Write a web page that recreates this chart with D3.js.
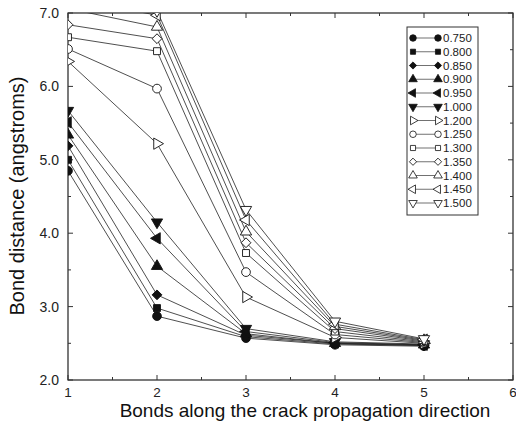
<!DOCTYPE html>
<html>
<head>
<meta charset="utf-8">
<script src="https://cdn.jsdelivr.net/npm/d3@7"></script>
<style>
  body { margin: 0; background: #fff; }
  svg { font-family: "Liberation Sans", Arial, sans-serif; }
</style>
</head>
<body>
<div id="chart"></div>
<script>
const bonds = [1, 2, 3, 4, 5];
const seriesLabels = ["0.750", "0.800", "0.850", "0.900", "0.950", "1.000",
  "1.200", "1.250", "1.300", "1.350", "1.400", "1.450", "1.500"];

const s0750 = [4.85, 2.87, 2.57, 2.48, 2.46];
const s0800 = [5.00, 2.98, 2.59, 2.49, 2.47];
const s0850 = [5.19, 3.16, 2.61, 2.50, 2.47];
const s0900 = [5.34, 3.55, 2.63, 2.50, 2.48];
const s0950 = [5.51, 3.93, 2.66, 2.51, 2.48];
const s1000 = [5.67, 4.15, 2.70, 2.52, 2.49];
const s1200 = [6.34, 5.22, 3.13, 2.58, 2.50];
const s1250 = [6.51, 5.97, 3.47, 2.62, 2.51];
const s1300 = [6.67, 6.48, 3.73, 2.66, 2.52];
const s1350 = [6.84, 6.65, 3.87, 2.70, 2.53];
const s1400 = [7.06, 6.81, 4.02, 2.73, 2.54];
const s1450 = [7.20, 6.97, 4.18, 2.76, 2.55];
const s1500 = [7.35, 7.03, 4.32, 2.80, 2.56];

const xTicks = [1, 2, 3, 4, 5, 6];
const yTicks = [2, 3, 4, 5, 6, 7];

const allSeries = [s0750, s0800, s0850, s0900, s0950, s1000,
  s1200, s1250, s1300, s1350, s1400, s1450, s1500];

// marker shape per series: [symbol type, rotation, filled]
const markers = [
  [d3.symbolCircle, 0, true],
  [d3.symbolSquare, 0, true],
  [d3.symbolSquare, 45, true],
  [d3.symbolTriangle, 0, true],
  [d3.symbolTriangle, -90, true],
  [d3.symbolTriangle, 180, true],
  [d3.symbolTriangle, 90, false],
  [d3.symbolCircle, 0, false],
  [d3.symbolSquare, 0, false],
  [d3.symbolSquare, 45, false],
  [d3.symbolTriangle, 0, false],
  [d3.symbolTriangle, -90, false],
  [d3.symbolTriangle, 180, false],
];

const width = 516, height = 425;
const svg = d3.select("#chart").append("svg")
  .attr("width", width).attr("height", height);

const x = d3.scaleLinear().domain([1, 6]).range([68, 513]);
const y = d3.scaleLinear().domain([2, 7]).range([380, 13]);

svg.append("clipPath").attr("id", "plot-clip")
  .append("rect")
  .attr("x", x(1)).attr("y", y(7))
  .attr("width", x(6) - x(1)).attr("height", y(2) - y(7));

// frame
svg.append("rect")
  .attr("x", x(1)).attr("y", y(7))
  .attr("width", x(6) - x(1)).attr("height", y(2) - y(7))
  .attr("fill", "none").attr("stroke", "#222").attr("stroke-width", 1.2);

// inward ticks, major + halves
const xMinor = d3.range(1.5, 6, 1);
const yMinor = d3.range(2.5, 7, 1);
const tickG = svg.append("g").attr("stroke", "#333").attr("stroke-width", 1);
xTicks.concat(xMinor).forEach((t) => {
  const len = Number.isInteger(t) ? 5 : 3;
  tickG.append("line").attr("x1", x(t)).attr("x2", x(t)).attr("y1", y(2)).attr("y2", y(2) - len);
  tickG.append("line").attr("x1", x(t)).attr("x2", x(t)).attr("y1", y(7)).attr("y2", y(7) + len);
});
yTicks.concat(yMinor).forEach((t) => {
  const len = Number.isInteger(t) ? 5 : 3;
  tickG.append("line").attr("y1", y(t)).attr("y2", y(t)).attr("x1", x(1)).attr("x2", x(1) + len);
  tickG.append("line").attr("y1", y(t)).attr("y2", y(t)).attr("x1", x(6)).attr("x2", x(6) - len);
});

// tick labels
svg.append("g").selectAll("text").data(xTicks).enter().append("text")
  .attr("x", (d) => x(d)).attr("y", 397)
  .attr("text-anchor", "middle").attr("font-size", "13.5px").attr("fill", "#222")
  .text((d) => d);

svg.append("g").selectAll("text").data(yTicks).enter().append("text")
  .attr("x", 59).attr("y", (d) => y(d) + 5)
  .attr("text-anchor", "end").attr("font-size", "14px").attr("fill", "#222")
  .text((d) => d.toFixed(1));

// axis titles
svg.append("text")
  .attr("x", 305).attr("y", 417)
  .attr("text-anchor", "middle").attr("font-size", "19px").attr("fill", "#111")
  .text("Bonds along the crack propagation direction");

svg.append("text")
  .attr("transform", "rotate(-90)")
  .attr("x", -196).attr("y", 24)
  .attr("text-anchor", "middle").attr("font-size", "20px").attr("fill", "#111")
  .text("Bond distance (angstroms)");

// lines + markers
const plot = svg.append("g").attr("clip-path", "url(#plot-clip)");
const line = d3.line().x((d, i) => x(bonds[i])).y((d) => y(d));

allSeries.forEach((vals, si) => {
  plot.append("path")
    .attr("d", line(vals))
    .attr("fill", "none").attr("stroke", "#222").attr("stroke-width", 0.8);
});

allSeries.forEach((vals, si) => {
  const [type, rot, filled] = markers[si];
  const size = type === d3.symbolCircle ? 60 : type === d3.symbolTriangle ? 55 : 48;
  plot.selectAll(null).data(vals).enter().append("path")
    .attr("d", d3.symbol().type(type).size(size))
    .attr("transform", (d, i) => `translate(${x(bonds[i])},${y(d)}) rotate(${rot})`)
    .attr("fill", filled ? "#111" : "#fff")
    .attr("stroke", "#111").attr("stroke-width", 0.9);
});

// legend
const legend = svg.append("g");
legend.append("rect")
  .attr("x", 407).attr("y", 27).attr("width", 71).attr("height", 188)
  .attr("fill", "#fff").attr("stroke", "#333").attr("stroke-width", 1);

seriesLabels.forEach((lab, i) => {
  const ly = 38 + i * 13.75;
  const [type, rot, filled] = markers[i];
  const size = type === d3.symbolCircle ? 34 : type === d3.symbolTriangle ? 32 : 26;
  const g = legend.append("g");
  g.append("line").attr("x1", 413).attr("x2", 438).attr("y1", ly).attr("y2", ly)
    .attr("stroke", "#333").attr("stroke-width", 0.7);
  [413, 438].forEach((lx) => {
    g.append("path")
      .attr("d", d3.symbol().type(type).size(size))
      .attr("transform", `translate(${lx},${ly}) rotate(${rot})`)
      .attr("fill", filled ? "#111" : "#fff")
      .attr("stroke", "#111").attr("stroke-width", 0.8);
  });
  g.append("text").attr("x", 443).attr("y", ly + 4)
    .attr("font-size", "11.5px").attr("fill", "#222")
    .text(lab);
});
</script>
</body>
</html>
